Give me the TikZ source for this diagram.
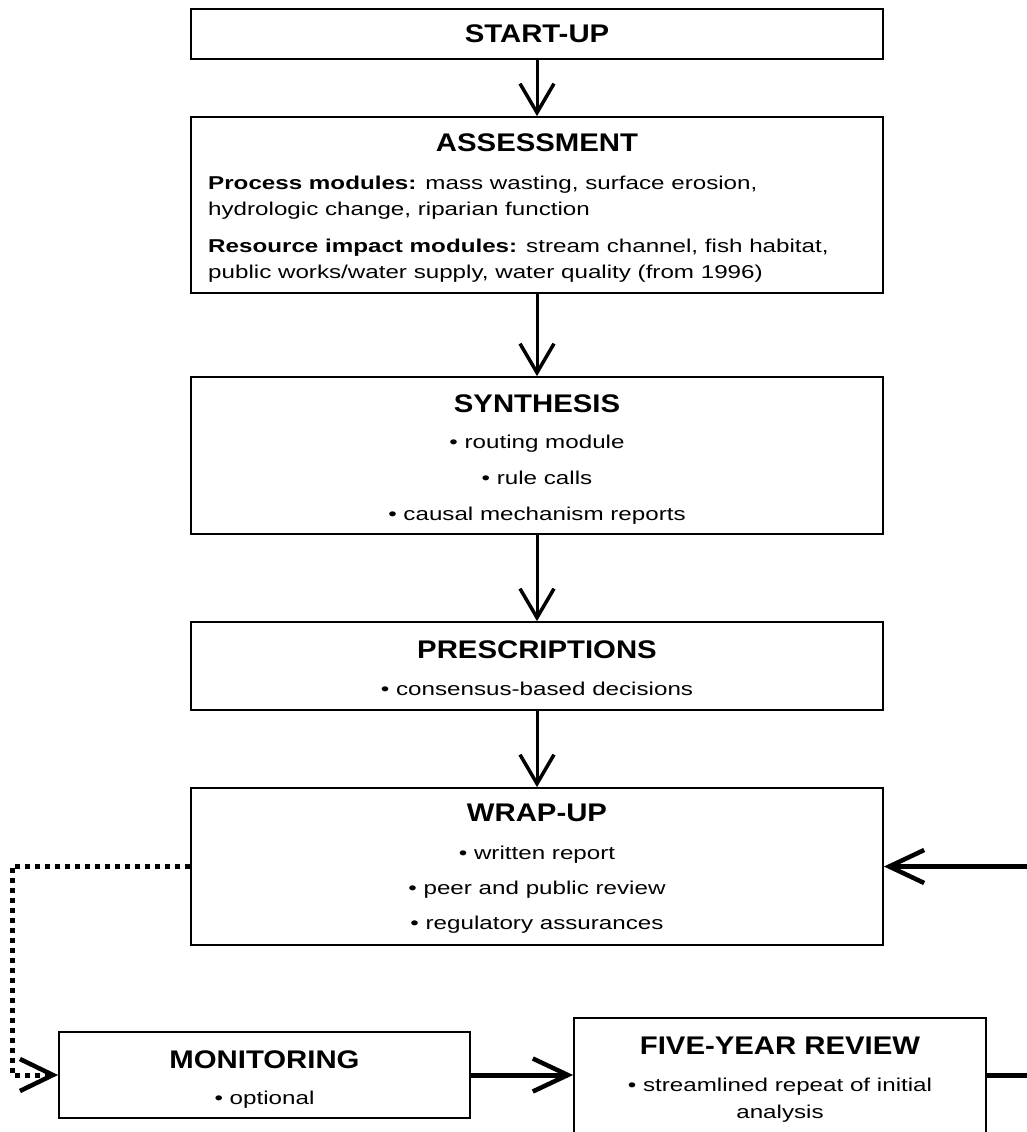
\documentclass[tikz,border=0pt]{standalone}
\usepackage{fontspec}
\setmainfont{Liberation Sans}
\newfontfamily\headfont{Liberation Sans}[FakeStretch=1.15]
\newfontfamily\itemfont{Liberation Sans}[FakeStretch=1.3]
\usetikzlibrary{arrows.meta}

\begin{document}
\begin{tikzpicture}[x=1pt,y=-1pt,
  box/.style={draw, line width=1.8pt, minimum width=692pt, inner sep=0pt},
  head/.style={font=\headfont\bfseries\fontsize{25.5}{30}\selectfont, anchor=base, inner sep=0pt},
  item/.style={font=\itemfont\fontsize{18.6}{27}\selectfont, anchor=base, inner sep=0pt},
  flow/.style={line width=3pt, -{Straight Barb[length=29pt,width=34pt,line width=3.5pt]}},
  link/.style={line width=5pt, -{Straight Barb[length=35pt,width=33pt,line width=4.5pt]}},
  dotline/.style={line width=5pt, dash pattern=on 5pt off 5pt,
    -{Straight Barb[length=33pt,width=32pt,line width=4.5pt]}},
  ]
\useasboundingbox (0,0) rectangle (1027,1132);
\clip (0,0) rectangle (1027,1132);

% boxes
\node[box, minimum height=50pt]  (start)  at (537,34)    {};
\node[box, minimum height=176pt] (assess) at (537,205)   {};
\node[box, minimum height=157pt] (synth)  at (537,455.5) {};
\node[box, minimum height=88pt]  (presc)  at (537,666)   {};
\node[box, minimum height=157pt] (wrap)   at (537,866.5) {};
\node[box, minimum width=411pt, minimum height=86pt]  (monit) at (264.5,1075) {};
\node[box, minimum width=412pt, minimum height=142pt] (five)  at (780,1089)   {};

% headings
\node[head] (h-start)  at (537,43)   {START-UP};
\node[head] (h-assess) at (537,151.5){ASSESSMENT};
\node[head] (h-synth)  at (537,412)  {SYNTHESIS};
\node[head] (h-presc)  at (537,658)  {PRESCRIPTIONS};
\node[head] (h-wrap)   at (537,821.5){WRAP-UP};
\node[head] (h-monit)  at (264.5,1068){MONITORING};
\node[head] (h-five)   at (780,1054) {FIVE-YEAR REVIEW};

% assessment modules
\node[item, anchor=base west] (a1) at (208,189) {\bfseries Process modules:\mdseries{} mass wasting, surface erosion,};
\node[item, anchor=base west] (a2) at (208,215) {hydrologic change, riparian function};
\node[item, anchor=base west] (a3) at (208,252) {\bfseries Resource impact modules:\mdseries{} stream channel, fish habitat,};
\node[item, anchor=base west] (a4) at (208,278) {public works/water supply, water quality (from 1996)};

% bullet lists
\node[item] (s1) at (537,448) {• routing module};
\node[item] (s2) at (537,484) {• rule calls};
\node[item] (s3) at (537,520) {• causal mechanism reports};
\node[item] (p1) at (537,695) {• consensus-based decisions};
\node[item] (w1) at (537,859) {• written report};
\node[item] (w2) at (537,894) {• peer and public review};
\node[item] (w3) at (537,929) {• regulatory assurances};
\node[item] (m1) at (264.5,1104) {• optional};
\node[item] (f1) at (780,1091) {• streamlined repeat of initial};
\node[item] (f2) at (780,1118) {analysis};

% main sequence
\draw[flow] (start) -- (assess);
\draw[flow] (assess) -- (synth);
\draw[flow] (synth) -- (presc);
\draw[flow] (presc) -- (wrap);

% optional monitoring branch
\coordinate (dtop) at (12,866.5);
\coordinate (dbot) at (12,1075);
\draw[dotline] (wrap.west) -- (dtop) -- (dbot) -- (monit.west);

% review cycle
\draw[link] (monit.east) -- (monit.east -| five.west);
\coordinate (rbot) at (1045,1075);
\coordinate (rtop) at (1045,866.5);
\draw[link] (five.east |- monit.east) -- (rbot) -- (rtop) -- (wrap.east);
\end{tikzpicture}
\end{document}
